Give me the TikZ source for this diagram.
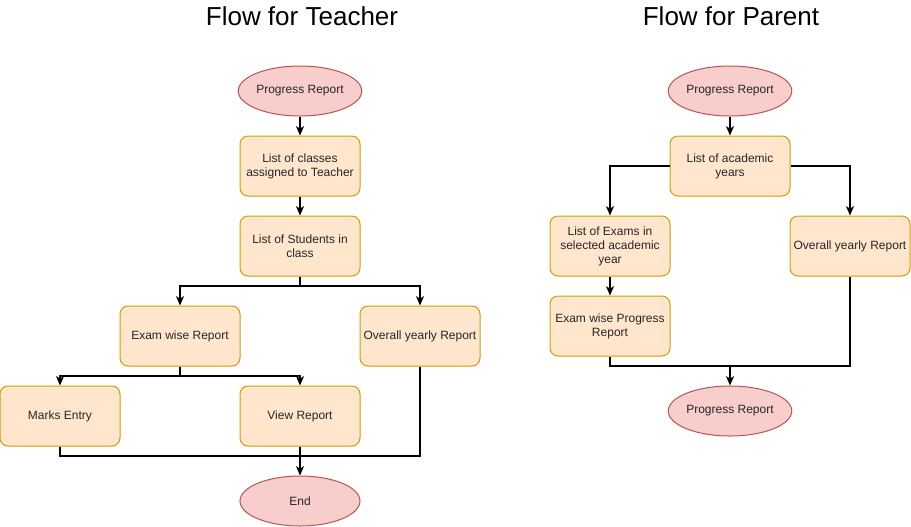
\documentclass[tikz,border=0pt]{standalone}
\usepackage{fontspec}
\setmainfont{Liberation Sans}
\usepackage{xcolor}
\usetikzlibrary{arrows.meta, shapes.geometric}

\definecolor{boxfill}{HTML}{FFE6CC}
\definecolor{boxline}{HTML}{D79B00}
\definecolor{ovalfill}{HTML}{F8CECC}
\definecolor{ovalline}{HTML}{B85450}

\begin{document}
\begin{tikzpicture}[x=0.75pt, y=-0.75pt]
  % 定义样式
  \tikzset{stepbox/.style = {rectangle, rounded corners=6pt, draw=boxline, fill=boxfill, line width=0.75pt,
      minimum width=90pt, minimum height=45pt, inner sep=1pt, align=center,
      font=\fontsize{9}{10.5}\selectfont, text=black!85}}
  \tikzset{oval/.style = {ellipse, draw=ovalline, fill=ovalfill, line width=0.75pt,
      minimum width=90pt, minimum height=37.5pt, inner sep=0pt,
      font=\fontsize{9}{10.5}\selectfont, text=black!85}}
  \tikzset{line/.style = {draw, line width=0.9pt}}
  \tikzset{arrow/.style = {line, -{Stealth[length=7pt, width=6pt, inset=1.8pt]}}}
  \tikzset{title/.style = {font=\fontsize{19.5}{22}\selectfont}}

  \useasboundingbox (0,0) rectangle (911,526);

  % 标题
  \node[title] (t1) at (302,16) {Flow for Teacher};
  \node[title] (t2) at (731,16) {Flow for Parent};

  % 教师流程
  \node[oval] (pr1) at (300,91) {Progress Report};
  \node[stepbox] (classes) at (300,166) {List of classes\\assigned to Teacher};
  \node[stepbox] (students) at (300,246) {List of Students in\\class};
  \node[stepbox] (examwise) at (180,336) {Exam wise Report};
  \node[stepbox] (overall1) at (420,336) {Overall yearly Report};
  \node[stepbox] (marks) at (60,416) {Marks Entry};
  \node[stepbox] (view) at (300,416) {View Report};
  \node[oval] (endn) at (300,501) {End};

  \coordinate (j1) at (300,286);
  \coordinate (j2) at (180,376);
  \coordinate (j3) at (300,456);

  \draw[arrow] (pr1) -- (classes);
  \draw[arrow] (classes) -- (students);
  \draw[line] (students.south) -- (j1);
  \draw[arrow] (j1) -| (examwise.north);
  \draw[arrow] (j1) -| (overall1.north);
  \draw[line] (examwise.south) -- (j2);
  \draw[arrow] (j2) -| (marks.north);
  \draw[arrow] (j2) -| (view.north);
  \draw[line] (marks.south) |- (j3) -| (overall1.south);
  \draw[arrow] (view.south) -- (endn.north);

  % 家长流程
  \node[oval] (pr2) at (730,91) {Progress Report};
  \node[stepbox] (years) at (730,166) {List of academic\\years};
  \node[stepbox] (exams) at (610,246) {List of Exams in\\selected academic\\year};
  \node[stepbox] (overall2) at (850,246) {Overall yearly Report};
  \node[stepbox] (examprog) at (610,326) {Exam wise Progress\\Report};
  \node[oval] (pr3) at (730,411) {Progress Report};

  \coordinate (j4) at (730,366);

  \draw[arrow] (pr2) -- (years);
  \draw[arrow] (years.west) -| (exams.north);
  \draw[arrow] (years.east) -| (overall2.north);
  \draw[arrow] (exams) -- (examprog);
  \draw[line] (examprog.south) |- (j4) -| (overall2.south);
  \draw[arrow] (j4) -- (pr3.north);
\end{tikzpicture}
\end{document}
